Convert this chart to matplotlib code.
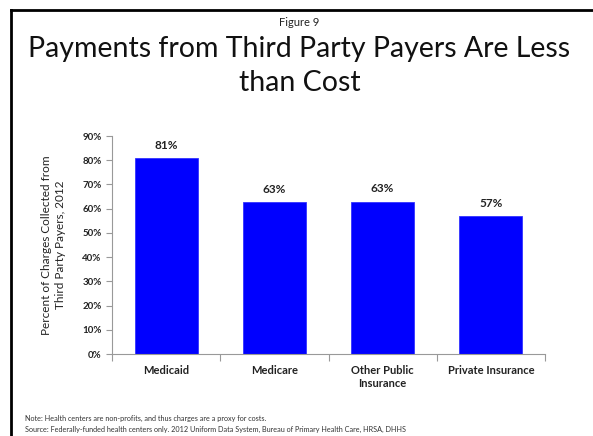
import matplotlib.pyplot as plt
import numpy as np
from matplotlib.lines import Line2D

plt.rcParams['font.family'] = ['Lato', 'DejaVu Sans']

# Data
categories = ['Medicaid', 'Medicare', 'Other Public\nInsurance', 'Private Insurance']
values = [80.8, 62.6, 62.9, 56.9]
yticks = [0, 10, 20, 30, 40, 50, 60, 70, 80, 90]

fig = plt.figure(figsize=(5.93, 4.36), dpi=100)
ax = fig.add_axes([0.189, 0.188, 0.730, 0.500])

x = np.arange(len(categories))
ax.bar(x, values, width=0.58, color='#0000FF', edgecolor='#3333FF', linewidth=0.6)

for xi, v in zip(x, values):
    ax.text(xi, v + 3, f'{v:.0f}%', ha='center', va='bottom',
            fontsize=8.5, fontweight='bold', color='#222222')

ax.set_xlim(-0.5, len(categories) - 0.5)
ax.set_ylim(0, 90)
ax.set_yticks(yticks)
ax.set_yticklabels([f'{t}%' for t in yticks], fontsize=7, fontweight='bold', color='#222222')
ax.set_xticks(x)
ax.set_xticklabels(categories, fontsize=8, fontweight='bold', color='#222222', linespacing=1.2)
ax.tick_params(axis='x', length=0, pad=8)
ax.tick_params(axis='y', length=4, color='#999999', width=0.8)
# category boundary ticks on the x-axis
ax.set_xticks(np.arange(len(categories) + 1) - 0.5, minor=True)
ax.tick_params(axis='x', which='minor', length=5, color='#999999', width=0.8)

for side in ['top', 'right']:
    ax.spines[side].set_visible(False)
for side in ['left', 'bottom']:
    ax.spines[side].set_color('#999999')
    ax.spines[side].set_linewidth(0.8)

ax.set_ylabel('Percent of Charges Collected from\nThird Party Payers, 2012',
              fontsize=8.5, color='#222222', labelpad=12, linespacing=1.3)

fig.text(0.505, 0.948, 'Figure 9', ha='center', va='center', fontsize=8, color='#222222')
fig.text(0.505, 0.887, 'Payments from Third Party Payers Are Less', ha='center',
         va='center', fontsize=20.5, color='#111111')
fig.text(0.505, 0.809, 'than Cost', ha='center', va='center', fontsize=20.5, color='#111111')

fig.text(0.042, 0.040, 'Note: Health centers are non-profits, and thus charges are a proxy for costs.',
         fontsize=5.2, color='#333333', va='center')
fig.text(0.042, 0.014, 'Source: Federally-funded health centers only. 2012 Uniform Data System, '
         'Bureau of Primary Health Care, HRSA, DHHS', fontsize=5.2, color='#333333', va='center')

# frame lines at top and left of the slide
fig.add_artist(Line2D([0.019, 1.0], [0.977, 0.977], color='black', linewidth=2,
                      transform=fig.transFigure))
fig.add_artist(Line2D([0.019, 0.019], [0.0, 0.977], color='black', linewidth=2,
                      transform=fig.transFigure))

fig.savefig('out.png', dpi=100)
